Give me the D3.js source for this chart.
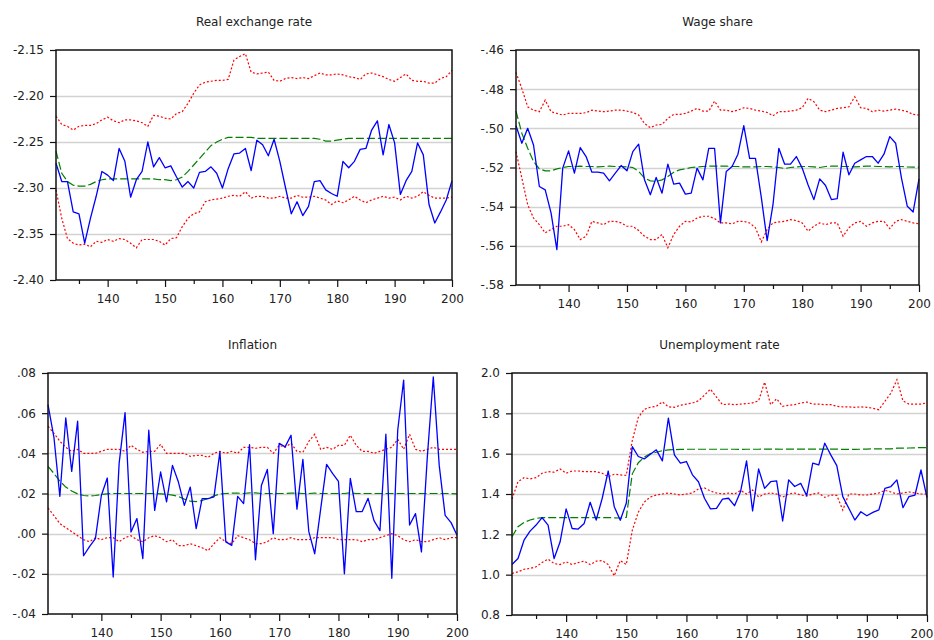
<!DOCTYPE html>
<html><head><meta charset="utf-8">
<script src="https://cdn.jsdelivr.net/npm/d3@7"></script>
<style>
html,body{margin:0;padding:0;background:#fff;}
svg{display:block;}
text{font-family:"DejaVu Sans",sans-serif;}
</style></head><body>
<svg id="chart" width="934" height="640"></svg>
<script>
const periods = [131,132,133,134,135,136,137,138,139,140,141,142,143,144,145,146,147,148,149,150,
151,152,153,154,155,156,157,158,159,160,161,162,163,164,165,166,167,168,169,170,
171,172,173,174,175,176,177,178,179,180,181,182,183,184,185,186,187,188,189,190,
191,192,193,194,195,196,197,198,199,200];
const xMajorTicks = [140,150,160,170,180,190,200];
const xMinorTicks = [135,145,155,165,175,185,195];
const xTickLabels = ["140","150","160","170","180","190","200"];

// Real exchange rate
const rerActual = [-2.273,-2.293,-2.293,-2.326,-2.328,-2.360,-2.333,-2.309,-2.282,-2.286,
-2.292,-2.257,-2.271,-2.310,-2.291,-2.282,-2.250,-2.277,-2.267,-2.278,
-2.276,-2.288,-2.299,-2.293,-2.300,-2.283,-2.282,-2.277,-2.284,-2.300,
-2.279,-2.263,-2.262,-2.257,-2.281,-2.248,-2.253,-2.265,-2.247,-2.271,
-2.300,-2.328,-2.315,-2.330,-2.320,-2.293,-2.292,-2.302,-2.306,-2.309,
-2.271,-2.278,-2.271,-2.258,-2.257,-2.237,-2.227,-2.264,-2.231,-2.251,
-2.307,-2.292,-2.282,-2.251,-2.264,-2.318,-2.338,-2.326,-2.313,-2.292];
const rerMean = [-2.260,-2.284,-2.293,-2.297,-2.298,-2.298,-2.296,-2.293,-2.291,-2.290,
-2.290,-2.290,-2.290,-2.290,-2.290,-2.290,-2.290,-2.290,-2.291,-2.291,
-2.292,-2.291,-2.288,-2.282,-2.275,-2.268,-2.261,-2.254,-2.250,-2.247,
-2.245,-2.245,-2.245,-2.245,-2.245,-2.246,-2.246,-2.246,-2.246,-2.246,
-2.246,-2.246,-2.246,-2.246,-2.246,-2.246,-2.247,-2.249,-2.249,-2.248,
-2.247,-2.246,-2.246,-2.246,-2.246,-2.246,-2.246,-2.246,-2.246,-2.246,
-2.246,-2.246,-2.246,-2.246,-2.246,-2.246,-2.246,-2.246,-2.246,-2.246];
const rerUpper = [-2.222,-2.231,-2.233,-2.237,-2.233,-2.232,-2.232,-2.230,-2.226,-2.223,
-2.227,-2.229,-2.226,-2.226,-2.227,-2.229,-2.233,-2.221,-2.222,-2.224,
-2.225,-2.219,-2.217,-2.208,-2.197,-2.188,-2.185,-2.184,-2.183,-2.183,
-2.182,-2.161,-2.157,-2.154,-2.174,-2.176,-2.175,-2.174,-2.183,-2.184,
-2.181,-2.180,-2.181,-2.180,-2.181,-2.178,-2.175,-2.177,-2.177,-2.176,
-2.177,-2.179,-2.180,-2.182,-2.176,-2.175,-2.177,-2.179,-2.182,-2.184,
-2.180,-2.176,-2.183,-2.184,-2.184,-2.186,-2.186,-2.181,-2.179,-2.172];
const rerLower = [-2.302,-2.333,-2.355,-2.360,-2.362,-2.361,-2.364,-2.358,-2.359,-2.356,
-2.358,-2.355,-2.356,-2.360,-2.365,-2.356,-2.356,-2.356,-2.358,-2.362,
-2.355,-2.354,-2.342,-2.333,-2.328,-2.326,-2.315,-2.313,-2.312,-2.311,
-2.309,-2.308,-2.309,-2.304,-2.311,-2.309,-2.309,-2.311,-2.311,-2.309,
-2.311,-2.311,-2.308,-2.310,-2.310,-2.309,-2.311,-2.313,-2.318,-2.314,
-2.316,-2.313,-2.309,-2.313,-2.316,-2.313,-2.311,-2.309,-2.311,-2.310,
-2.313,-2.309,-2.311,-2.309,-2.304,-2.308,-2.311,-2.311,-2.311,-2.310];
const rerTicks = [-2.40,-2.35,-2.30,-2.25,-2.20,-2.15];
const rerTickLabels = ["-2.40","-2.35","-2.30","-2.25","-2.20","-2.15"];

// Wage share
const wsActual = [-0.4986,-0.5076,-0.5000,-0.5085,-0.5297,-0.5314,-0.5432,-0.5619,-0.5203,-0.5115,
-0.5229,-0.5098,-0.5144,-0.5224,-0.5224,-0.5229,-0.5268,-0.5229,-0.5190,-0.5217,
-0.5119,-0.5081,-0.5263,-0.5339,-0.5251,-0.5331,-0.5183,-0.5285,-0.5280,-0.5336,
-0.5331,-0.5203,-0.5263,-0.5102,-0.5102,-0.5483,-0.5220,-0.5195,-0.5132,-0.4986,
-0.5153,-0.5153,-0.5353,-0.5573,-0.5390,-0.5102,-0.5183,-0.5183,-0.5144,-0.5203,
-0.5288,-0.5364,-0.5258,-0.5292,-0.5364,-0.5359,-0.5122,-0.5237,-0.5178,-0.5161,
-0.5144,-0.5144,-0.5178,-0.5132,-0.5042,-0.5076,-0.5254,-0.5398,-0.5427,-0.5258];
const wsMean = [-0.4912,-0.5025,-0.5102,-0.5169,-0.5207,-0.5217,-0.5217,-0.5207,-0.5200,-0.5195,
-0.5195,-0.5193,-0.5195,-0.5195,-0.5197,-0.5195,-0.5193,-0.5195,-0.5195,-0.5197,
-0.5200,-0.5220,-0.5254,-0.5268,-0.5271,-0.5263,-0.5246,-0.5224,-0.5212,-0.5207,
-0.5200,-0.5197,-0.5195,-0.5193,-0.5193,-0.5193,-0.5193,-0.5195,-0.5195,-0.5197,
-0.5197,-0.5197,-0.5195,-0.5195,-0.5197,-0.5200,-0.5205,-0.5200,-0.5197,-0.5195,
-0.5195,-0.5197,-0.5200,-0.5195,-0.5193,-0.5193,-0.5195,-0.5195,-0.5197,-0.5195,
-0.5193,-0.5193,-0.5195,-0.5195,-0.5197,-0.5195,-0.5195,-0.5197,-0.5198,-0.5198];
const wsUpper = [-0.4715,-0.4797,-0.4890,-0.4907,-0.4915,-0.4856,-0.4915,-0.4924,-0.4932,-0.4924,
-0.4924,-0.4924,-0.4920,-0.4907,-0.4912,-0.4915,-0.4912,-0.4907,-0.4907,-0.4912,
-0.4919,-0.4932,-0.4975,-0.4997,-0.4983,-0.4980,-0.4949,-0.4929,-0.4929,-0.4924,
-0.4912,-0.4898,-0.4912,-0.4912,-0.4861,-0.4907,-0.4907,-0.4915,-0.4907,-0.4895,
-0.4898,-0.4907,-0.4912,-0.4919,-0.4936,-0.4915,-0.4915,-0.4912,-0.4907,-0.4895,
-0.4847,-0.4864,-0.4907,-0.4915,-0.4907,-0.4898,-0.4895,-0.4890,-0.4839,-0.4895,
-0.4898,-0.4915,-0.4907,-0.4912,-0.4907,-0.4902,-0.4907,-0.4915,-0.4929,-0.4932];
const wsLower = [-0.5119,-0.5254,-0.5390,-0.5458,-0.5492,-0.5534,-0.5517,-0.5500,-0.5500,-0.5492,
-0.5517,-0.5568,-0.5551,-0.5475,-0.5483,-0.5492,-0.5475,-0.5475,-0.5483,-0.5500,
-0.5500,-0.5522,-0.5551,-0.5568,-0.5568,-0.5542,-0.5610,-0.5542,-0.5500,-0.5475,
-0.5478,-0.5458,-0.5449,-0.5449,-0.5461,-0.5483,-0.5483,-0.5488,-0.5475,-0.5475,
-0.5483,-0.5508,-0.5580,-0.5517,-0.5483,-0.5478,-0.5475,-0.5466,-0.5471,-0.5483,
-0.5525,-0.5500,-0.5483,-0.5492,-0.5483,-0.5483,-0.5551,-0.5508,-0.5483,-0.5475,
-0.5500,-0.5483,-0.5475,-0.5475,-0.5512,-0.5475,-0.5466,-0.5475,-0.5483,-0.5488];
const wsTicks = [-0.58,-0.56,-0.54,-0.52,-0.50,-0.48,-0.46];
const wsTickLabels = ["-.58","-.56","-.54","-.52","-.50","-.48","-.46"];

// Inflation
const infActual = [0.0642,0.0480,0.0186,0.0576,0.0310,0.0560,-0.0110,-0.0065,-0.0025,0.0190,
0.0277,-0.0216,0.0350,0.0603,0.0008,0.0075,-0.0124,0.0515,0.0116,0.0307,
0.0158,0.0340,0.0257,0.0141,0.0232,0.0025,0.0174,0.0174,0.0183,0.0407,
-0.0041,-0.0058,0.0186,0.0150,0.0443,-0.0130,0.0240,0.0320,0.0000,0.0450,
0.0432,0.0490,0.0122,0.0370,0.0010,-0.0100,0.0122,0.0345,0.0300,0.0260,
-0.0200,0.0275,0.0110,0.0110,0.0176,0.0065,0.0015,0.0495,-0.0222,0.0515,
0.0765,0.0043,0.0100,-0.0091,0.0385,0.0780,0.0340,0.0091,0.0055,-0.0008];
const infMean = [0.0335,0.0300,0.0262,0.0232,0.0212,0.0198,0.0190,0.0188,0.0190,0.0195,
0.0198,0.0200,0.0200,0.0200,0.0200,0.0200,0.0200,0.0200,0.0200,0.0198,
0.0196,0.0192,0.0185,0.0172,0.0162,0.0160,0.0165,0.0175,0.0188,0.0198,
0.0200,0.0202,0.0202,0.0200,0.0203,0.0203,0.0200,0.0200,0.0200,0.0200,
0.0200,0.0202,0.0202,0.0200,0.0200,0.0202,0.0200,0.0200,0.0200,0.0200,
0.0200,0.0203,0.0200,0.0200,0.0200,0.0200,0.0200,0.0200,0.0200,0.0200,
0.0200,0.0200,0.0200,0.0200,0.0200,0.0200,0.0200,0.0200,0.0200,0.0198];
const infUpper = [0.0535,0.0500,0.0460,0.0430,0.0410,0.0420,0.0400,0.0400,0.0400,0.0410,
0.0420,0.0420,0.0420,0.0410,0.0440,0.0420,0.0405,0.0410,0.0410,0.0445,
0.0400,0.0400,0.0400,0.0400,0.0385,0.0390,0.0390,0.0380,0.0400,0.0410,
0.0400,0.0410,0.0400,0.0430,0.0430,0.0425,0.0430,0.0430,0.0400,0.0440,
0.0430,0.0450,0.0410,0.0405,0.0460,0.0495,0.0420,0.0430,0.0420,0.0440,
0.0440,0.0490,0.0440,0.0410,0.0410,0.0400,0.0410,0.0420,0.0430,0.0470,
0.0420,0.0495,0.0420,0.0410,0.0420,0.0430,0.0420,0.0420,0.0420,0.0420];
const infLower = [0.0128,0.0090,0.0050,0.0030,0.0010,-0.0010,-0.0030,-0.0040,-0.0020,-0.0030,
-0.0020,-0.0020,-0.0040,-0.0020,-0.0010,-0.0030,-0.0040,-0.0020,-0.0010,-0.0020,
-0.0040,-0.0030,-0.0060,-0.0060,-0.0050,-0.0060,-0.0070,-0.0085,-0.0050,-0.0020,
-0.0040,-0.0050,-0.0010,-0.0020,-0.0030,-0.0050,-0.0050,-0.0040,-0.0020,-0.0030,
-0.0030,-0.0020,-0.0030,-0.0030,-0.0030,-0.0020,-0.0020,-0.0020,-0.0020,-0.0030,
-0.0030,-0.0030,-0.0030,-0.0040,-0.0030,-0.0030,-0.0020,-0.0010,0.0000,-0.0010,
-0.0030,-0.0040,-0.0030,-0.0040,-0.0040,-0.0030,-0.0020,-0.0030,-0.0020,-0.0020];
const infTicks = [-0.04,-0.02,0.00,0.02,0.04,0.06,0.08];
const infTickLabels = ["-.04","-.02",".00",".02",".04",".06",".08"];

// Unemployment rate
const unActual = [1.050,1.080,1.171,1.216,1.246,1.283,1.246,1.080,1.163,1.326,
1.229,1.226,1.254,1.359,1.271,1.379,1.514,1.337,1.270,1.354,
1.635,1.586,1.574,1.597,1.619,1.564,1.776,1.594,1.553,1.561,
1.495,1.461,1.379,1.326,1.329,1.375,1.379,1.342,1.412,1.564,
1.316,1.524,1.428,1.461,1.465,1.266,1.470,1.437,1.453,1.392,
1.553,1.544,1.652,1.594,1.541,1.387,1.329,1.271,1.312,1.292,
1.309,1.321,1.428,1.437,1.470,1.332,1.387,1.395,1.519,1.382];
const unMean = [1.188,1.238,1.259,1.271,1.279,1.283,1.283,1.283,1.283,1.283,
1.283,1.283,1.283,1.283,1.284,1.283,1.283,1.282,1.281,1.284,
1.500,1.555,1.583,1.600,1.607,1.615,1.619,1.620,1.621,1.622,
1.622,1.622,1.622,1.622,1.622,1.622,1.622,1.622,1.621,1.622,
1.622,1.622,1.623,1.623,1.623,1.622,1.623,1.623,1.623,1.623,
1.623,1.623,1.623,1.623,1.623,1.621,1.621,1.621,1.622,1.623,
1.624,1.624,1.624,1.624,1.627,1.627,1.628,1.629,1.630,1.630];
const unUpper = [1.375,1.461,1.481,1.475,1.481,1.503,1.511,1.508,1.524,1.503,
1.514,1.514,1.511,1.511,1.511,1.503,1.486,1.498,1.495,1.492,
1.665,1.780,1.820,1.830,1.835,1.857,1.832,1.830,1.840,1.846,
1.851,1.862,1.890,1.920,1.880,1.843,1.846,1.843,1.846,1.848,
1.852,1.862,1.955,1.843,1.872,1.835,1.840,1.843,1.851,1.856,
1.846,1.846,1.843,1.843,1.835,1.832,1.832,1.830,1.832,1.830,
1.825,1.818,1.860,1.900,1.967,1.862,1.846,1.846,1.846,1.852];
const unLower = [1.006,1.014,1.027,1.031,1.039,1.060,1.077,1.055,1.050,1.064,
1.050,1.060,1.067,1.050,1.067,1.070,1.050,0.994,1.070,1.050,
1.220,1.310,1.360,1.385,1.395,1.400,1.405,1.400,1.395,1.400,
1.405,1.425,1.430,1.415,1.405,1.400,1.405,1.400,1.418,1.400,
1.420,1.385,1.400,1.405,1.400,1.385,1.400,1.405,1.395,1.390,
1.400,1.405,1.383,1.395,1.393,1.320,1.400,1.400,1.395,1.395,
1.400,1.405,1.418,1.410,1.400,1.405,1.410,1.405,1.400,1.400];
const unTicks = [0.8,1.0,1.2,1.4,1.6,1.8,2.0];
const unTickLabels = ["0.8","1.0","1.2","1.4","1.6","1.8","2.0"];

const panels = [
  {title:"Real exchange rate", actual:rerActual, mean:rerMean, upper:rerUpper, lower:rerLower,
   ticks:rerTicks, labels:rerTickLabels, box:{l:56, t:50, r:452, b:280}},
  {title:"Wage share", actual:wsActual, mean:wsMean, upper:wsUpper, lower:wsLower,
   ticks:wsTicks, labels:wsTickLabels, box:{l:516, t:50, r:919, b:285}},
  {title:"Inflation", actual:infActual, mean:infMean, upper:infUpper, lower:infLower,
   ticks:infTicks, labels:infTickLabels, box:{l:48, t:373, r:457, b:614}},
  {title:"Unemployment rate", actual:unActual, mean:unMean, upper:unUpper, lower:unLower,
   ticks:unTicks, labels:unTickLabels, box:{l:512, t:373, r:927, b:615}}
];

const svg = d3.select("#chart");
const W = 934;

panels.forEach(p => {
  const {l, t, r, b} = p.box;
  const x = d3.scaleLinear().domain([periods[0], periods[periods.length - 1]]).range([l, r]);
  const y = d3.scaleLinear().domain([p.ticks[0], p.ticks[p.ticks.length - 1]]).range([b, t]);
  const g = svg.append("g");

  // gridlines
  g.append("g").selectAll("line")
    .data(p.ticks.slice(1, -1))
    .join("line")
    .attr("x1", l).attr("x2", r)
    .attr("y1", d => Math.round(y(d)) + 0.5).attr("y2", d => Math.round(y(d)) + 0.5)
    .attr("stroke", "#d2d2d2").attr("stroke-width", 1.5);

  const line = d3.line().x((d, i) => x(periods[i])).y(d => y(d));

  g.append("path").datum(p.upper).attr("d", line)
    .attr("fill", "none").attr("stroke", "#ff0000").attr("stroke-width", 1.2)
    .attr("stroke-dasharray", "2,2");
  g.append("path").datum(p.lower).attr("d", line)
    .attr("fill", "none").attr("stroke", "#ff0000").attr("stroke-width", 1.2)
    .attr("stroke-dasharray", "2,2");
  g.append("path").datum(p.mean).attr("d", line)
    .attr("fill", "none").attr("stroke", "#008000").attr("stroke-width", 1.2)
    .attr("stroke-dasharray", "8,3");
  g.append("path").datum(p.actual).attr("d", line)
    .attr("fill", "none").attr("stroke", "#0000ff").attr("stroke-width", 1.3)
    .attr("stroke-linejoin", "round");

  // frame
  g.append("rect").attr("x", l).attr("y", t).attr("width", r - l).attr("height", b - t)
    .attr("fill", "none").attr("stroke", "#111").attr("stroke-width", 1.5);

  // y axis
  const ya = g.append("g").attr("transform", `translate(${l},0)`)
    .call(d3.axisLeft(y).tickValues(p.ticks).tickFormat((d, i) => p.labels[i])
      .tickSize(6).tickSizeOuter(0).tickPadding(6));
  ya.select(".domain").remove();
  ya.selectAll("line").attr("stroke", "#111").attr("stroke-width", 1.2);
  ya.selectAll("text").attr("font-family", "DejaVu Sans, sans-serif").attr("font-size", 12).attr("fill", "#222");

  // x axis major
  const xa = g.append("g").attr("transform", `translate(0,${b})`)
    .call(d3.axisBottom(x).tickValues(xMajorTicks).tickFormat((d, i) => xTickLabels[i])
      .tickSize(7).tickSizeOuter(0).tickPadding(7));
  xa.select(".domain").remove();
  xa.selectAll("line").attr("stroke", "#111").attr("stroke-width", 1.2);
  xa.selectAll("text").attr("font-family", "DejaVu Sans, sans-serif").attr("font-size", 12).attr("fill", "#222");
  // keep the last label inside the page
  xa.selectAll(".tick").each(function(d) {
    const txt = d3.select(this).select("text");
    const w = txt.node().getComputedTextLength();
    const overflow = x(d) + w / 2 - (W - 1);
    if (overflow > 0) txt.attr("dx", -overflow);
  });

  // x axis minor
  const xm = g.append("g").attr("transform", `translate(0,${b})`)
    .call(d3.axisBottom(x).tickValues(xMinorTicks).tickFormat("").tickSize(4).tickSizeOuter(0));
  xm.select(".domain").remove();
  xm.selectAll("line").attr("stroke", "#111").attr("stroke-width", 1.2);

  // title
  g.append("text").attr("x", (l + r) / 2).attr("y", t - 24)
    .attr("text-anchor", "middle").attr("font-size", 12).attr("fill", "#222")
    .text(p.title);
});
</script>
</body></html>
